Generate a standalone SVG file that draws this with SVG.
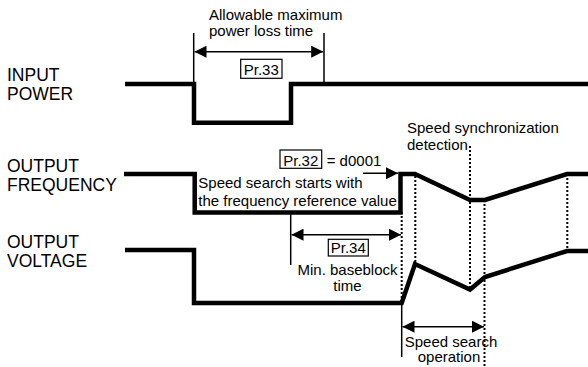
<svg xmlns="http://www.w3.org/2000/svg" width="588" height="367" viewBox="0 0 588 367">
<defs>
<marker id="ah" markerUnits="userSpaceOnUse" markerWidth="12" markerHeight="12" refX="10" refY="5" orient="auto-start-reverse" viewBox="0 0 10 10">
<path d="M0,0 L10,5 L0,10 z" fill="#000"/>
</marker>
<style>
text{font-family:"Liberation Sans",Arial,Helvetica,sans-serif;fill:#000}
.lbl{font-size:17.5px}
.ann{font-size:15px}
.wave{fill:none;stroke:#000;stroke-width:4.5;stroke-linejoin:miter;stroke-linecap:butt}
.thin{fill:none;stroke:#000;stroke-width:1.5}
.dot{fill:none;stroke:#000;stroke-width:2;stroke-dasharray:2 2}
.arr{fill:none;stroke:#000;stroke-width:1.5;marker-start:url(#ah);marker-end:url(#ah)}
.arr1{fill:none;stroke:#000;stroke-width:1.5;marker-end:url(#ah)}
.box{fill:#fff;stroke:#000;stroke-width:1.2}
</style>
</defs>
<rect width="588" height="367" fill="#fff"/>

<g id="labels">
<text class="lbl" x="7" y="80.5">INPUT</text>
<text class="lbl" x="7" y="100">POWER</text>
<text class="lbl" x="7" y="171.5">OUTPUT</text>
<text class="lbl" x="7" y="190.5">FREQUENCY</text>
<text class="lbl" x="7" y="248">OUTPUT</text>
<text class="lbl" x="7" y="267">VOLTAGE</text>
</g>

<g id="input-power">
<path class="wave" d="M125,84 H194 V122.7 H291 V84 H588"/>
</g>

<g id="output-frequency">
<path class="wave" d="M124,174 H194.7 V212.5 H400.5 V174 H415 L470,200 H485 L567,174 H588"/>
</g>

<g id="output-voltage">
<path class="wave" d="M125,250 H194 V303 H401.7 L415,264 L470,289.5 L485,277 L567,251 H588"/>
</g>

<g id="connectors">
<line class="thin" x1="193.7" y1="33" x2="193.7" y2="84"/>
<line class="thin" x1="324" y1="33" x2="324" y2="84"/>
<line class="arr" x1="194.5" y1="51.7" x2="323.2" y2="51.7"/>
<line class="thin" x1="290.7" y1="212" x2="290.7" y2="265"/>
<line class="arr" x1="291.5" y1="234.7" x2="401" y2="234.7"/>
<line class="thin" x1="401.7" y1="303" x2="401.7" y2="357"/>
<line class="arr" x1="402.5" y1="326.7" x2="484" y2="326.7"/>
<line class="arr1" x1="363" y1="173.3" x2="398" y2="173.3"/>
<line class="dot" x1="401.7" y1="212" x2="401.7" y2="303"/>
<line class="dot" x1="415.3" y1="176" x2="415.3" y2="264"/>
<line class="dot" x1="470" y1="146" x2="470" y2="289"/>
<line class="dot" x1="484.5" y1="200" x2="484.5" y2="366"/>
<line class="dot" x1="567.3" y1="174" x2="567.3" y2="251"/>
</g>

<g id="pr33">
<text class="ann" x="209" y="20">Allowable maximum</text>
<text class="ann" x="209" y="36">power loss time</text>
<rect class="box" x="240.7" y="59.3" width="41.3" height="19"/>
<text class="ann" x="261.3" y="75" text-anchor="middle">Pr.33</text>
</g>

<g id="pr32">
<rect class="box" x="280" y="150" width="41.7" height="18.3"/>
<text class="ann" x="300.8" y="165.5" text-anchor="middle">Pr.32</text>
<text class="ann" x="326.7" y="166">= d0001</text>
<text class="ann" x="198.3" y="188.3">Speed search starts with</text>
<text class="ann" x="198.3" y="205.7">the frequency reference value</text>
</g>

<g id="pr34">
<rect class="box" x="328.3" y="239.3" width="40" height="16.7"/>
<text class="ann" x="348.3" y="253" text-anchor="middle">Pr.34</text>
<text class="ann" x="347.5" y="275" text-anchor="middle">Min. baseblock</text>
<text class="ann" x="347.5" y="290.7" text-anchor="middle">time</text>
</g>

<g id="sync">
<text class="ann" x="407" y="133.3">Speed synchronization</text>
<text class="ann" x="407" y="150">detection</text>
</g>

<g id="search">
<text class="ann" x="451" y="346.7" text-anchor="middle">Speed search</text>
<text class="ann" x="449" y="362" text-anchor="middle">operation</text>
</g>
</svg>
